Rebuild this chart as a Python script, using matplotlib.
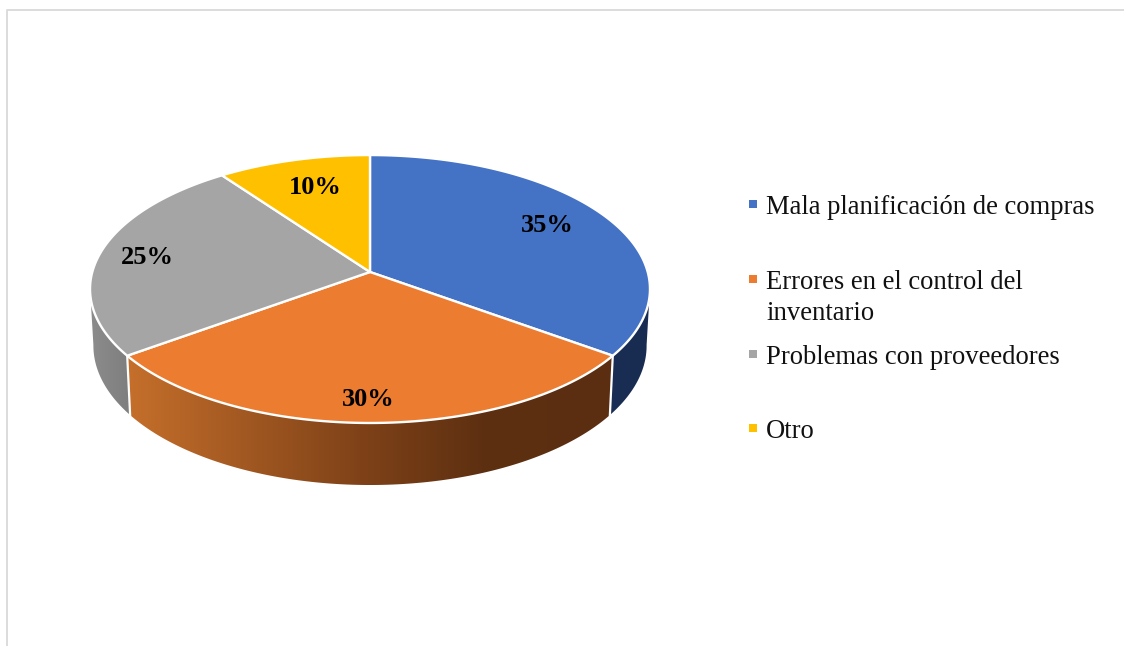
import matplotlib
matplotlib.use("Agg")
import matplotlib.pyplot as plt
import numpy as np
from matplotlib.colors import LinearSegmentedColormap
from matplotlib.patches import Polygon

plt.rcParams['font.family'] = ['Liberation Serif', 'DejaVu Serif']

categories = ["Mala planificación de compras", "Errores en el control del\ninventario",
              "Problemas con proveedores", "Otro"]
values = [35, 30, 25, 10]
colors = ["#4472c4", "#ec7c30", "#a5a5a5", "#ffc000"]
wall_colors = [["#1a2e55", "#182b50"],
               [(0, "#c56f2b"), (0.48, "#7f4218"), (0.73, "#5e3011"), (1, "#5c2e11")],
               ["#8c8c8c", "#7e7e7e"],
               ["#7f6000", "#7f6000"]]

# perspective of the disc, in pixels
cx, cy = 370, 272
ax_x, ax_y, k = 277.7, 131.8, 0.127
# part of the rim that can be seen from the front
vis_a, vis_b = 97, 263


def top(theta):
    t = np.radians(theta)
    d = 1 + k * np.cos(t)
    return cx + ax_x * np.sin(t) / d, cy - ax_y * np.cos(t) / d


def bottom(theta):
    x, y = top(theta)
    return cx + 0.988 * (x - cx), cy + 1.04 * (y - cy) + 56


fig = plt.figure(figsize=(11.24, 6.46), dpi=100)
ax = fig.add_axes([0, 0, 1, 1])

angles = np.cumsum([0] + values) / sum(values) * 360

# side walls
for i in range(len(values)):
    a, b = max(angles[i], vis_a), min(angles[i + 1], vis_b)
    if a >= b:
        continue
    th = np.linspace(a, b, 120)
    tx, ty = top(th)
    bx, by = bottom(th)
    pts = np.vstack([np.column_stack([tx, ty]), np.column_stack([bx, by])[::-1]])
    poly = Polygon(pts, closed=True, facecolor='none', edgecolor='none')
    ax.add_patch(poly)
    cmap = LinearSegmentedColormap.from_list("wall%d" % i, wall_colors[i])
    im = ax.imshow(np.linspace(0, 1, 256).reshape(1, -1), cmap=cmap, aspect='auto',
                   extent=[pts[:, 0].min(), pts[:, 0].max(), pts[:, 1].max(), pts[:, 1].min()],
                   zorder=1, interpolation='bilinear')
    im.set_clip_path(poly)

# white lines between the visible walls
for a in angles[1:-1]:
    if vis_a < a < vis_b:
        tx, ty = top(a)
        bx, by = bottom(a)
        ax.plot([tx, bx], [ty, by], color='white', lw=1.6, zorder=2)

# top of the disc
for i in range(len(values)):
    th = np.linspace(angles[i], angles[i + 1], 200)
    tx, ty = top(th)
    pts = np.vstack([[cx, cy], np.column_stack([tx, ty])])
    ax.add_patch(Polygon(pts, closed=True, facecolor=colors[i], edgecolor='white',
                         lw=1.7, joinstyle='round', zorder=3))

# data labels
label_xy = [(547, 225), (368, 400), (147, 258), (315, 187)]
for v, (x, y) in zip(values, label_xy):
    ax.text(x, y, "%d%%" % v, fontsize=19, fontweight='bold', color='black',
            ha='center', va='center', zorder=4)

# legend
legend_y = [204, 279, 354, 428]
for name, c, y in zip(categories, colors, legend_y):
    ax.scatter([753], [y], marker='s', s=26, color=c, linewidths=0, zorder=4)
    ax.text(766, y - 9, name, fontsize=19.2, color='#111111', ha='left', va='top',
            linespacing=1.32, zorder=4)

# frame of the chart area
ax.plot([6.5, 6.5, 1124], [646, 10, 10], color='#d9d9d9', lw=1.3, zorder=0)

ax.set_xlim(0, 1124)
ax.set_ylim(646, 0)
ax.axis('off')
fig.savefig("out.png", dpi=100)
